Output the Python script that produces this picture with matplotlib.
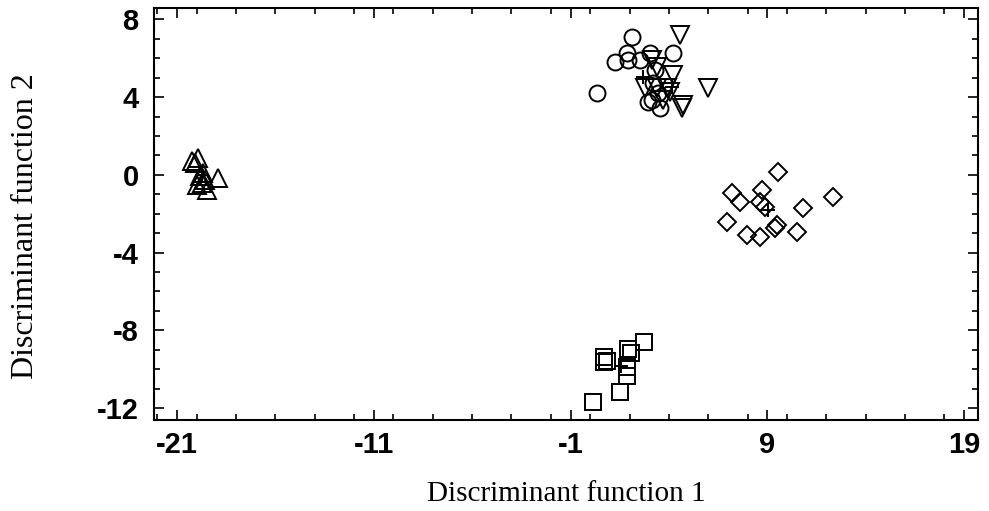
import matplotlib
matplotlib.use("Agg")
import matplotlib.pyplot as plt
from matplotlib.ticker import MultipleLocator, FixedLocator

# Group 1: up triangles
tri_up_x = [-19.92, -20.25, -20.08, -18.90, -19.66, -19.83, -19.75, -19.49, -20.00, -19.58]
tri_up_y = [0.87, 0.70, 0.63, -0.16, 0.10, -0.08, -0.42, -0.76, -0.50, -0.25]
# Group 2: circles
circ_x = [2.11, 1.26, 1.86, 1.94, 2.53, 3.04, 4.23, 0.33, 3.30, 3.21, 3.13, 2.96, 3.55, 3.46]
circ_y = [7.11, 5.83, 6.26, 5.92, 5.92, 6.26, 6.26, 4.20, 5.40, 4.72, 3.86, 3.77, 3.43, 4.20]
# Group 3: down triangles
tri_dn_x = [4.57, 3.13, 3.38, 4.23, 2.79, 3.38, 3.89, 6.00, 4.73, 4.65, 3.72, 4.06]
tri_dn_y = [7.20, 5.92, 5.57, 5.14, 4.46, 4.46, 4.46, 4.46, 3.60, 3.43, 3.86, 4.27]
# Group 4: diamonds
diam_x = [9.56, 7.19, 7.62, 8.72, 8.63, 8.89, 12.36, 10.83, 6.94, 7.96, 8.63, 9.48, 9.39, 10.50]
diam_y = [0.17, -0.94, -1.38, -0.78, -1.38, -1.63, -1.12, -1.72, -2.41, -3.09, -3.18, -2.58, -2.75, -2.92]
# Group 5: squares
sq_x = [2.74, 1.94, 2.06, 0.70, 0.72, 0.87, 1.86, 1.86, 1.52, 0.16]
sq_y = [-8.61, -8.96, -9.16, -9.39, -9.64, -9.59, -9.90, -10.38, -11.16, -11.67]
# Group centroids
cent_x = [-19.75, 2.70, 4.14, 9.05, 1.57]
cent_y = [0.00, 5.06, 4.54, -1.80, -9.84]

x_ticks = [-21, -11, -1, 9, 19]
y_ticks = [8, 4, 0, -4, -8, -12]

fig = plt.figure(figsize=(9.89, 5.11), dpi=100)
ax = fig.add_axes([154/989, 1-420/511, (978-154)/989, (420-8)/511])

mk = dict(linestyle='none', markerfacecolor='none', markeredgecolor='black', markeredgewidth=1.4)
ax.plot(tri_up_x, tri_up_y, marker='^', markersize=13.5, **mk)
ax.plot(circ_x, circ_y, marker='o', markersize=11.5, **mk)
ax.plot(tri_dn_x, tri_dn_y, marker='v', markersize=13, **mk)
ax.plot(diam_x, diam_y, marker='D', markersize=9, **mk)
ax.plot(sq_x, sq_y, marker='s', markersize=11.5, **mk)
ax.plot(cent_x, cent_y, marker='+', markersize=10, linestyle='none', color='black', markeredgewidth=1.4)

ax.set_xlim(-22.17, 19.71)
ax.set_ylim(-12.62, 8.59)
ax.xaxis.set_major_locator(FixedLocator(x_ticks))
ax.yaxis.set_major_locator(FixedLocator(y_ticks))
ax.xaxis.set_minor_locator(MultipleLocator(2))
ax.yaxis.set_minor_locator(MultipleLocator(1))
ax.set_xticklabels([str(t) for t in x_ticks])
ax.set_yticklabels([str(t) for t in y_ticks])

ax.tick_params(which='both', direction='in', top=True, right=True, width=1.2, colors='black')
ax.tick_params(which='major', length=7, labelsize=21)
ax.tick_params(axis='x', which='major', pad=8)
ax.tick_params(axis='y', which='major', pad=11)
ax.tick_params(which='minor', length=4)
for lab in ax.get_xticklabels() + ax.get_yticklabels():
    lab.set_family(['Liberation Sans', 'DejaVu Sans'])
    lab.set_fontweight('bold')
for sp in ax.spines.values():
    sp.set_linewidth(1.5)

ax.set_xlabel('Discriminant function 1', family=['Liberation Serif', 'DejaVu Serif'], fontsize=21, labelpad=16)
ax.set_ylabel('Discriminant function 2', family=['Liberation Serif', 'DejaVu Serif'], fontsize=23)
ax.yaxis.set_label_coords(-0.138, 0.47)

fig.savefig('out.png', dpi=100)
